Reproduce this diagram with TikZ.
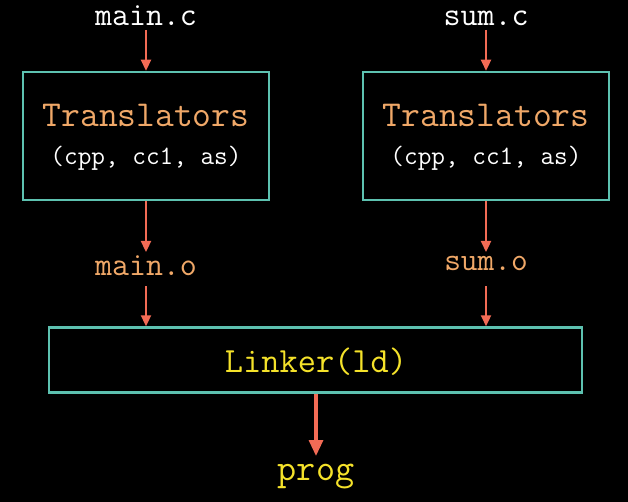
\documentclass[tikz,border=0pt]{standalone}
\usepackage{fontspec}
\usetikzlibrary{arrows.meta}
\definecolor{teal1}{HTML}{5DC1B0}
\definecolor{arr}{HTML}{F26B55}
\definecolor{orng}{HTML}{F0A868}
\definecolor{yell}{HTML}{F5E22A}
\newcommand{\fs}[1]{\fontsize{#1}{#1}\selectfont}
\tikzset{
  boxnode/.style={draw=teal1, line width=2.5pt, rectangle, inner sep=0pt},
  lbl/.style={inner sep=0pt, anchor=base, font=\ttfamily},
  conn/.style={draw=arr, line width=2.3pt, -{Triangle[length=11pt,width=10pt]}},
  bigconn/.style={draw=arr, line width=3.2pt, -{Triangle[length=16pt,width=14pt]}},
}
\begin{document}
\begin{tikzpicture}[x=1pt,y=-1pt]
\fill[black] (0,0) rectangle (628,502);
\useasboundingbox (0,0) rectangle (628,502);

\node[boxnode, minimum width=246pt, minimum height=128pt] (b1) at (146,136) {};
\node[boxnode, minimum width=246pt, minimum height=128pt] (b2) at (486,136) {};
\node[boxnode, minimum width=533pt, minimum height=65pt] (lk) at (315.5,360) {};

\node[lbl, text=white, font=\ttfamily\fs{33}] (mc) at (146,26) {main.c};
\node[lbl, text=white, font=\ttfamily\fs{33}] (sc) at (486,26) {sum.c};

\node[lbl, text=orng, font=\ttfamily\fs{36.5}] (t1) at (146,127) {Translators};
\node[lbl, text=white, font=\ttfamily\fs{26.5}] (p1) at (146,165) {(cpp, cc1, as)};
\node[lbl, text=orng, font=\ttfamily\fs{36.5}] (t2) at (486,127) {Translators};
\node[lbl, text=white, font=\ttfamily\fs{26.5}] (p2) at (486,165) {(cpp, cc1, as)};

\node[lbl, text=orng, font=\ttfamily\fs{33}] (mo) at (146,275) {main.o};
\node[lbl, text=orng, font=\ttfamily\fs{32.4}] (so) at (486,270) {sum.o};

\node[lbl, text=yell, font=\ttfamily\fs{35.4}] (lt) at (316,372) {Linker(ld)};
\node[lbl, text=yell, font=\ttfamily\fs{37}] (pg) at (316,480) {prog};

\coordinate (mcb) at (146,30);
\coordinate (scb) at (486,30);
\coordinate (mot) at (146,252);
\coordinate (mob) at (146,286);
\coordinate (sot) at (486,252);
\coordinate (sob) at (486,286);
\coordinate (pgt) at (316,456);

\draw[conn] (mcb) -- (b1.north);
\draw[conn] (scb) -- (b2.north);
\draw[conn] (b1.south) -- (mot);
\draw[conn] (b2.south) -- (sot);
\draw[conn] (mob) -- (mob |- lk.north);
\draw[conn] (sob) -- (sob |- lk.north);
\draw[bigconn] (lk.south -| pgt) -- (pgt);
\end{tikzpicture}
\end{document}
